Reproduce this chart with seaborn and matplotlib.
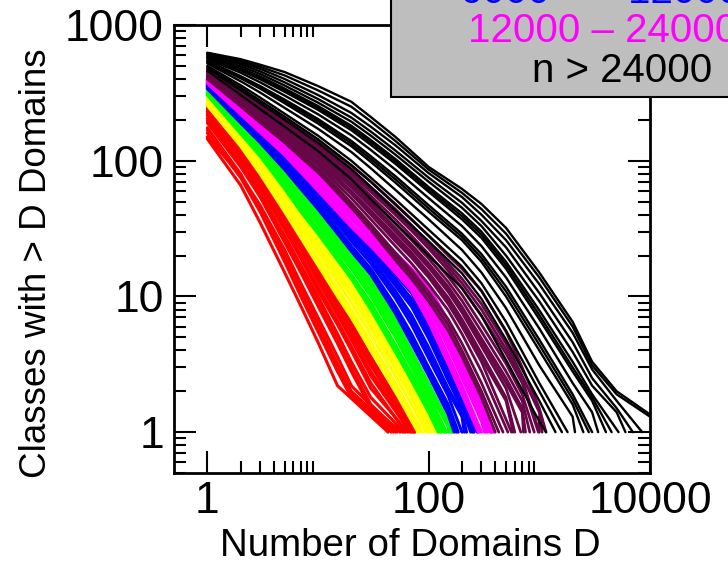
import matplotlib
matplotlib.use("Agg")
import matplotlib.pyplot as plt
from matplotlib.patches import Rectangle
from matplotlib.ticker import FixedLocator, NullFormatter
import pandas as pd
import seaborn as sns

# Cumulative counts: number of classes having more than D domains, one curve per genome.
# Each curve: (D where the count reaches 1, counts on the group's D grid).

red_D = [1, 2, 3, 5, 7, 10, 15, 20, 30, 50]
red_curves = [
    (43, [145, 66, 35, 15, 8.5, 4.6, 2.2]),
    (46, [175, 80, 44, 19, 11, 6, 3, 1.9]),
    (48, [160, 75, 42, 18, 10, 5.5, 2.8, 1.8]),
    (50, [168, 79, 45, 20, 11.5, 6.4, 3.2, 2.0]),
    (52, [150, 78, 47, 22, 12.5, 7, 3.6, 2.2]),
    (55, [198, 94, 55, 26, 16, 9.2, 4.9, 3.0, 1.6]),
    (58, [190, 90, 54, 25, 15, 8.5, 4.5, 2.8, 1.5]),
    (60, [205, 98, 58, 28, 17, 10, 5.3, 3.3, 1.8]),
    (62, [222, 107, 64, 32, 20, 11.8, 6.6, 4.3, 2.3]),
    (65, [215, 105, 63, 31, 19, 11, 6.2, 4, 2.1]),
    (68, [230, 110, 67, 34, 22, 13, 7.3, 4.8, 2.6]),
    (70, [238, 114, 70, 36, 23, 13.8, 7.9, 5.2, 2.8]),
    (72, [245, 117, 72, 37, 24, 14.5, 8.5, 5.6, 3.1]),
    (74, [252, 120, 75, 39, 25, 15.2, 9, 6, 3.3, 1.7]),
    (75, [260, 124, 77, 40, 26, 16, 9.5, 6.4, 3.6, 1.8]),
]

yellow_D = [1, 2, 3, 5, 7, 10, 15, 20, 30, 50, 70, 100]
yellow_curves = [
    (80, [255, 128, 80, 42, 27, 17, 10, 7, 4, 2]),
    (84, [258, 130, 82, 44, 28.5, 18, 10.8, 7.5, 4.3, 2.1, 1.3]),
    (88, [262, 132, 84, 45, 29.5, 19, 11.5, 8, 4.6, 2.3, 1.4]),
    (95, [270, 137, 88, 48, 32, 21, 12.8, 9, 5.2, 2.6, 1.6]),
    (100, [278, 141, 93, 51, 34, 22.5, 14, 10, 5.8, 2.9, 1.8]),
    (104, [282, 144, 95, 52.5, 35, 23.5, 14.6, 10.5, 6.1, 3.0, 1.85, 1.1]),
    (108, [285, 146, 97, 54, 36, 24.5, 15.3, 11, 6.5, 3.2, 1.9, 1.2]),
    (115, [292, 150, 101, 57, 38.5, 26, 16.5, 12, 7.1, 3.5, 2.1, 1.3]),
    (119, [296, 153, 104, 58.5, 40, 27, 17.2, 12.5, 7.4, 3.6, 2.2, 1.3]),
    (123, [300, 155, 106, 60, 41, 28, 17.8, 12.9, 7.7, 3.7, 2.3, 1.35]),
]

green_D = [1, 2, 3, 5, 7, 10, 15, 20, 30, 50, 70, 100, 150]
green_curves = [
    (122, [305, 158, 108, 62, 42, 29, 18.5, 13.5, 8, 3.9, 2.4, 1.4]),
    (126, [308, 160, 110, 64, 43.5, 30.2, 19.2, 14, 8.5, 4.1, 2.55, 1.5]),
    (130, [311, 163, 112, 66, 45, 31.5, 20, 14.5, 9, 4.4, 2.7, 1.55]),
    (138, [316, 168, 117, 70, 48, 34, 21.5, 16, 10, 5, 3, 1.7]),
    (141, [319, 171, 119, 72, 49.5, 35, 22.2, 16.6, 10.5, 5.3, 3.15, 1.8]),
    (145, [322, 173, 121, 74, 51, 36, 23, 17.2, 11, 5.6, 3.3, 1.85]),
    (152, [327, 178, 125, 77, 54, 38, 24.5, 18.3, 12, 6.1, 3.6, 2.0, 1.1]),
    (158, [331, 182, 128, 80, 56, 39.5, 25.8, 19.2, 12.7, 6.5, 3.8, 2.15, 1.15]),
    (161, [333, 184, 130, 81.5, 57.5, 40.3, 26.4, 19.6, 13, 6.7, 3.9, 2.2, 1.18]),
    (165, [335, 186, 132, 83, 59, 41, 27, 20, 13.4, 6.9, 4.0, 2.3, 1.2]),
]

blue_D = [1, 2, 3, 5, 7, 10, 15, 20, 30, 50, 70, 100, 150, 200]
blue_curves = [
    (170, [340, 190, 136, 86, 62, 44, 29, 21.5, 14.5, 7.5, 4.5, 2.6, 1.35]),
    (178, [342, 192, 138, 88, 64, 45.5, 30.2, 22.5, 15.2, 8.0, 4.9, 2.8, 1.5]),
    (185, [345, 195, 140, 90, 66, 47, 31.5, 23.5, 16, 8.5, 5.3, 3.0, 1.6]),
    (200, [351, 200, 145, 94, 69, 50, 34, 25.5, 17.5, 9.7, 6.2, 3.5, 1.85]),
    (210, [353, 202, 147, 96, 70.5, 51.2, 35, 26.2, 18.1, 10.3, 6.7, 3.8, 2.0, 1.3]),
    (220, [356, 205, 149, 98, 72, 52.5, 36, 27, 18.8, 11, 7.3, 4.2, 2.1, 1.4]),
    (240, [360, 209, 153, 101, 74, 54.5, 37.5, 28.5, 20, 12, 8.4, 4.9, 2.4, 1.5]),
    (250, [362, 211, 154, 102.5, 75.5, 55.5, 38.2, 29.2, 20.7, 12.7, 8.9, 5.2, 2.5, 1.55]),
    (258, [365, 213, 156, 104, 77, 56.5, 39, 30, 21.5, 13.5, 9.6, 5.6, 2.7, 1.6]),
    (275, [370, 217, 159, 107, 80, 58, 40.5, 31, 22.5, 14.5, 10.6, 6.1, 2.9, 1.7]),
]

magenta_D = [1, 2, 3, 5, 7, 10, 15, 20, 30, 50, 70, 100, 150, 200, 300]
magenta_curves = [
    (280, [372, 220, 162, 110, 82, 60, 42, 32.5, 23.5, 15, 11, 6.5, 3.2, 1.9]),
    (290, [374, 222, 164, 112, 84, 61.7, 43.2, 33.5, 24.3, 15.6, 11.5, 7.0, 3.4, 2.0]),
    (300, [377, 225, 167, 114, 86, 63.5, 44.5, 34.5, 25.2, 16.3, 12.1, 7.5, 3.7, 2.2]),
    (320, [382, 231, 173, 119, 90, 67, 47, 37, 26.8, 17.3, 12.9, 8.3, 4.2, 2.5, 1.2]),
    (330, [384, 234, 175, 121, 92.5, 69, 48.5, 38, 27.5, 17.9, 13.4, 8.8, 4.5, 2.7, 1.3]),
    (340, [387, 237, 178, 124, 95, 71, 50, 39, 28.3, 18.5, 14, 9.4, 4.9, 2.9, 1.4]),
    (360, [391, 243, 183, 129, 100, 75, 52.5, 41, 29.5, 19.4, 14.8, 10.2, 5.4, 3.2, 1.5]),
    (368, [393, 245, 185, 131, 102, 77, 53.7, 41.7, 30.2, 19.9, 15.2, 10.7, 5.8, 3.4, 1.6]),
    (375, [396, 248, 188, 134, 105, 79, 55, 42.5, 30.8, 20.5, 15.6, 11.2, 6.2, 3.6, 1.7]),
    (390, [400, 253, 193, 138, 110, 83, 57, 44, 31.5, 21, 16, 11.8, 6.6, 3.8, 1.8]),
]

maroon_D = [1, 2, 3, 5, 7, 10, 15, 20, 30, 50, 70, 100, 150, 200, 300, 500, 700, 1000]
maroon_curves = [
    (400, [400, 252, 191, 136, 106, 82, 58, 45, 31, 18.5, 13.5, 9.2, 5.6, 3.6, 1.8]),
    (430, [408, 258, 196, 140, 109, 85, 60, 47, 32.5, 19.8, 14.5, 10, 6.2, 4.0, 2.0]),
    (470, [410, 262, 201, 144, 113, 88, 63, 49, 34, 21, 15.5, 10.8, 6.8, 4.5, 2.3]),
    (520, [415, 270, 208, 150, 118, 93, 67, 53, 37, 23.5, 17.5, 12.3, 7.9, 5.3, 2.8]),
    (560, [405, 268, 210, 154, 123, 97, 71, 57, 40, 25.5, 19.3, 13.8, 8.8, 6.0, 3.3]),
    (580, [420, 276, 215, 158, 126, 99, 73, 58.5, 41.5, 26.8, 20, 14.4, 9.3, 6.4, 3.5, 1.7]),
    (600, [425, 282, 220, 162, 129, 102, 75, 60, 43, 28, 21, 15, 9.8, 6.8, 3.8, 1.8]),
    (680, [430, 288, 226, 168, 135, 107, 79, 64, 46, 30, 22.5, 16.3, 10.8, 7.6, 4.3, 2.1]),
    (720, [445, 292, 230, 171, 137, 110, 81, 66, 47.5, 31, 23.2, 16.9, 11.3, 8.0, 4.6, 2.3, 1.4]),
    (750, [440, 296, 233, 174, 140, 112, 84, 68, 49, 32, 24, 17.5, 11.8, 8.4, 4.9, 2.5, 1.5]),
    (820, [435, 300, 238, 179, 145, 116, 88, 72, 52, 34.5, 26, 19, 12.8, 9.3, 5.5, 2.8, 1.7]),
    (900, [450, 310, 246, 186, 151, 121, 92, 76, 55, 37, 28, 20.5, 14, 10.3, 6.2, 3.2, 1.9]),
    (980, [455, 316, 253, 192, 157, 127, 97, 80, 59, 40, 30.5, 22.5, 15.5, 11.5, 7.2, 3.8, 2.3]),
    (1000, [458, 320, 258, 195, 160, 130, 100, 83, 61, 42, 32, 23.7, 16.5, 12.5, 8.0, 4.1, 2.45, 1.3]),
    (1060, [462, 323, 262, 198, 163, 133, 103, 86, 64, 44, 33.5, 25, 17.5, 13.5, 8.8, 4.5, 2.6, 1.4]),
    (1150, [470, 330, 270, 205, 170, 140, 110, 92, 70, 48, 37, 28, 20, 16, 11, 5.5, 3.0, 1.5]),
]

black_D = [1, 2, 3, 5, 10, 20, 30, 50, 100, 200, 300, 500, 1000, 2000, 3000, 5000, 10000]
black_curves = [
    (1150, [460, 305, 240, 178, 118, 73, 52, 34.5, 20, 11.5, 7.2, 3.4, 1.2]),
    (1400, [480, 330, 265, 200, 135, 87, 64, 43, 25.5, 14.8, 9.6, 4.8, 1.7]),
    (1600, [490, 345, 278, 211, 144, 93, 70, 47.5, 28, 16.6, 11, 5.6, 2.0]),
    (1800, [500, 360, 292, 222, 153, 100, 75, 52, 31, 18.5, 12.5, 6.5, 2.3]),
    (2100, [520, 385, 318, 245, 172, 116, 88, 61, 37, 22, 15, 8.2, 3.1, 1.3]),
    (2500, [530, 405, 340, 265, 188, 128, 98, 69, 42, 26, 18, 10, 4.0, 1.6]),
    (2800, [540, 412, 348, 274, 196, 134, 103, 73, 44.5, 27.5, 19.2, 10.9, 4.4, 1.75]),
    (3000, [545, 420, 355, 282, 203, 140, 108, 77, 47, 29, 20.5, 11.8, 4.8, 1.9]),
    (3400, [560, 445, 378, 302, 220, 154, 120, 86, 53, 33, 23.5, 13.8, 5.8, 2.3, 1.4]),
    (4000, [570, 462, 398, 322, 237, 168, 131, 95, 59, 37, 27, 16, 6.8, 2.8, 1.7]),
    (4500, [578, 470, 408, 331, 245, 175, 137, 99, 61.5, 39, 28.5, 17, 7.3, 3.0, 1.8]),
    (5200, [585, 480, 418, 340, 253, 181, 142, 103, 64, 41, 30, 18, 7.9, 3.3, 1.9]),
    (6000, [595, 497, 436, 358, 268, 194, 153, 111, 70, 45, 33, 20, 9.2, 3.9, 2.2, 1.4]),
    (7000, [605, 515, 455, 378, 285, 208, 164, 119, 75, 49, 36, 23, 10.6, 4.6, 2.5, 1.5]),
    (8500, [612, 530, 475, 400, 305, 225, 178, 130, 81, 54, 40, 26, 12.3, 5.4, 2.9, 1.7]),
    (None, [620, 545, 492, 425, 330, 250, 195, 140, 86, 58, 44, 29, 13.8, 6.0, 3.1, 1.9, 1.3]),
    (None, [625, 560, 510, 450, 355, 272, 210, 150, 90, 62, 48, 32, 15, 6.5, 3.3, 2.0, 1.35]),
]

group_names = ["red", "yellow", "green", "blue", "magenta", "maroon", "black"]
group_colors = ["#ff0000", "#ffff00", "#00ff00", "#0000ff", "#ff00ff", "#670748", "#000000"]
group_widths = [2.2, 2.2, 2.2, 2.2, 2.2, 2.0, 1.7]
group_grids = [red_D, yellow_D, green_D, blue_D, magenta_D, maroon_D, black_D]
group_curves = [red_curves, yellow_curves, green_curves, blue_curves,
                magenta_curves, maroon_curves, black_curves]

legend_labels = ["6000 – 12000", "12000 – 24000", "n > 24000"]
legend_colors = ["#0000ff", "#ff00ff", "#000000"]

x_major = [1, 100, 10000]
x_major_labels = ["1", "100", "10000"]
y_major = [1, 10, 100, 1000]
y_major_labels = ["1", "10", "100", "1000"]

# long-form table: one row per vertex
rows = []
for name, grid, curves in zip(group_names, group_grids, group_curves):
    for k, (d_end, counts) in enumerate(curves):
        xs = list(grid[:len(counts)])
        ys = list(counts)
        if d_end is not None:
            xs.append(d_end)
            ys.append(1)
        for x, y in zip(xs, ys):
            rows.append({"group": name, "curve": f"{name}{k}", "D": x, "count": y})
df = pd.DataFrame(rows)

sns.set_theme(style="white")
plt.rcParams["font.family"] = ["Liberation Sans", "DejaVu Sans"]

W, H = 728, 563
fig = plt.figure(figsize=(W / 100, H / 100), dpi=100)
ax = fig.add_axes([174 / W, 1 - 473 / H, 476 / W, 448 / H])
ax.set_xscale("log")
ax.set_yscale("log")

for name, color, lw in zip(group_names, group_colors, group_widths):
    sub = df[df["group"] == name]
    sns.lineplot(data=sub, x="D", y="count", units="curve", estimator=None,
                 color=color, linewidth=lw, legend=False, ax=ax)

ax.set_xlim(0.5, 10000)
ax.set_ylim(0.5, 1000)

ax.xaxis.set_major_locator(FixedLocator(x_major))
ax.xaxis.set_minor_locator(FixedLocator([m * b for b in (1, 100) for m in range(2, 10)]))
ax.set_xticklabels(x_major_labels)
ax.yaxis.set_major_locator(FixedLocator(y_major))
ax.yaxis.set_minor_locator(FixedLocator([m * b for b in (0.1, 1, 10, 100) for m in range(2, 10)]))
ax.set_yticklabels(y_major_labels)
ax.xaxis.set_minor_formatter(NullFormatter())
ax.yaxis.set_minor_formatter(NullFormatter())

ax.tick_params(which="both", direction="in", bottom=True, left=True, top=True, right=True,
               color="black", width=1.5, labelsize=32, labelcolor="black")
ax.tick_params(which="major", length=15.8)
ax.tick_params(which="minor", length=8.6)
ax.tick_params(axis="x", which="major", pad=5.8)
ax.tick_params(axis="y", which="major", pad=7.2)
for sp in ax.spines.values():
    sp.set_visible(True)
    sp.set_color("black")
    sp.set_linewidth(2.0)

ax.set_xlabel("Number of Domains D", fontsize=27.7, color="black", va="baseline")
ax.xaxis.set_label_coords(0.496, (473 - 556) / 448)
ax.set_ylabel("Classes with > D Domains", fontsize=26.5, color="black", va="center")
ax.yaxis.set_label_coords((37 - 174) / 476, (473 - 263) / 448)

# key box in the upper right corner, running off the canvas
box = Rectangle((391 / W, 1 - 97 / H), (780 - 391) / W, 160 / H,
                transform=fig.transFigure, facecolor="#bebebe",
                edgecolor="black", linewidth=1.5, clip_on=False, zorder=5)
fig.add_artist(box)
key_x = [460, 468, 532]
key_baseline = [3, 42, 82]
key_text = ["6000  –   12000", legend_labels[1], legend_labels[2]]
for s, c, x, yb in zip(key_text, legend_colors, key_x, key_baseline):
    fig.text(x / W, 1 - yb / H, s, color=c, fontsize=29, ha="left",
             va="baseline", zorder=6)

fig.savefig("out.png", dpi=100)
